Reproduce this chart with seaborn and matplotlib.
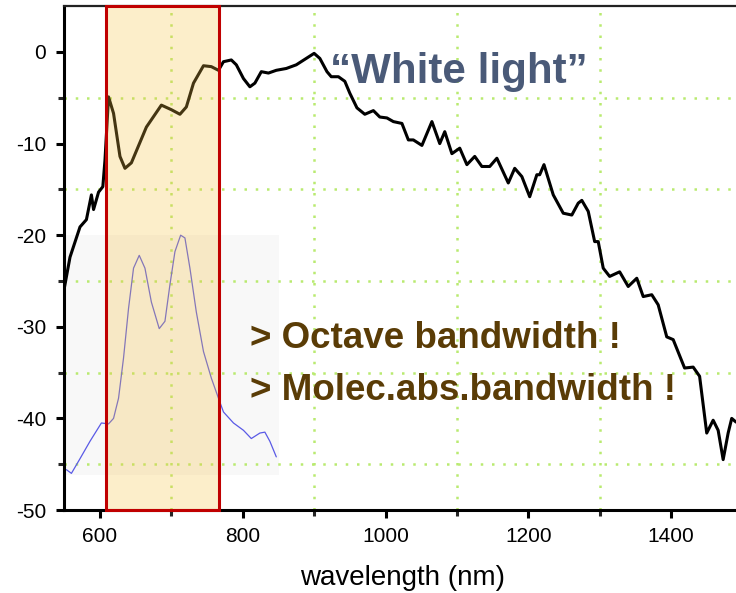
import numpy as np
import pandas as pd
import matplotlib
matplotlib.use("Agg")
import matplotlib.pyplot as plt
import seaborn as sns
from matplotlib.patches import Rectangle
from matplotlib.ticker import MultipleLocator

# ---- data ----
white_nm = [550, 558, 572, 581, 588, 591, 598, 604, 607, 612, 619, 628, 635, 644, 665, 686,
            700, 712, 721, 731, 745, 756, 766, 773, 784, 791, 801, 810, 817, 826, 836, 847,
            861, 875, 889, 900, 908, 918, 924, 934, 943, 950, 960, 971, 983, 992, 1002, 1011,
            1023, 1032, 1039, 1051, 1065, 1076, 1083, 1093, 1104, 1114, 1125, 1135, 1146, 1156,
            1172, 1181, 1191, 1202, 1212, 1216, 1222, 1235, 1249, 1261, 1270, 1275, 1284, 1293,
            1298, 1305, 1314, 1328, 1340, 1352, 1361, 1373, 1382, 1394, 1403, 1419, 1431, 1440,
            1450, 1459, 1466, 1473, 1480, 1485, 1491]
white_db = [-25.8, -22.4, -19.1, -18.3, -15.6, -17.2, -15.3, -14.7, -11.8, -4.9, -6.7, -11.4,
            -12.7, -12.1, -8.2, -5.8, -6.3, -6.8, -6.0, -3.4, -1.5, -1.6, -2.0, -1.06, -0.87,
            -1.4, -2.9, -3.8, -3.4, -2.15, -2.3, -2.0, -1.8, -1.4, -0.7, -0.15, -0.7, -2.15,
            -2.7, -2.7, -3.2, -4.5, -6.1, -6.8, -6.4, -7.1, -7.2, -7.6, -7.8, -9.6, -9.6,
            -10.2, -7.6, -10.0, -8.7, -11.1, -10.5, -12.3, -11.4, -12.5, -12.5, -11.6, -14.3,
            -12.7, -13.6, -15.8, -13.4, -13.4, -12.3, -15.6, -17.6, -17.8, -16.5, -16.2,
            -17.4, -20.7, -20.7, -23.6, -24.5, -24.0, -25.6, -24.7, -26.7, -26.5, -27.6,
            -31.1, -31.4, -34.5, -34.4, -35.4, -41.6, -40.2, -41.3, -44.5, -41.6, -40.0, -40.4]

abs_nm = [553, 560, 572, 586, 602, 612, 619, 626, 633, 640, 647, 655, 663, 672, 683, 691,
          698, 705, 713, 719, 726, 735, 745, 756, 766, 773, 787, 801, 812, 824, 831, 838, 847]
abs_db = [-45.6, -46.0, -44.4, -42.5, -40.5, -40.6, -40.0, -37.8, -33.4, -28.0, -23.6, -22.2,
          -23.6, -27.3, -30.2, -29.4, -25.4, -21.8, -20.0, -20.3, -23.6, -28.4, -32.7, -35.6,
          -37.8, -39.3, -40.5, -41.3, -42.2, -41.6, -41.5, -42.5, -44.2]

x_ticks = [600, 800, 1000, 1200, 1400]
y_ticks = [0, -10, -20, -30, -40, -50]
band_nm = [608, 767]
inset_nm = [550, 851]
inset_db = [-46.2, -20]

title_text = "\u201cWhite light\u201d"
note_lines = ["> Octave bandwidth !", "> Molec.abs.bandwidth !"]
x_label = "wavelength (nm)"

# ---- figure ----
sns.set_theme(style="white")
plt.rcParams['font.family'] = ['Liberation Sans', 'DejaVu Sans']

W, H = 736, 593
fig = plt.figure(figsize=(W / 100, H / 100), dpi=100)
ax = fig.add_axes([64 / W, (H - 510) / H, (W - 64) / W, (510 - 6) / H])
ax.set_facecolor("white")

# light grey inset background
ax.add_patch(Rectangle((inset_nm[0], inset_db[0]), inset_nm[1] - inset_nm[0],
                       inset_db[1] - inset_db[0], facecolor="#F8F8F8",
                       edgecolor="none", zorder=0.5))

df_w = pd.DataFrame({"nm": white_nm, "dB": white_db})
df_a = pd.DataFrame({"nm": abs_nm, "dB": abs_db})
sns.lineplot(data=df_a, x="nm", y="dB", ax=ax, color="#5A5AE6", lw=0.9,
             sort=False, zorder=2)
sns.lineplot(data=df_w, x="nm", y="dB", ax=ax, color="black", lw=2.2,
             sort=False, zorder=2.5)

ax.set_xlim(549.6, 1491)
ax.set_ylim(-50, 5.02)

# highlighted band (semi-transparent overlay + red frame)
ax.add_patch(Rectangle((band_nm[0], -50), band_nm[1] - band_nm[0], 55.02,
                       facecolor="#F5C242", alpha=0.28, edgecolor="none", zorder=3))
ax.add_patch(Rectangle((band_nm[0], -50), band_nm[1] - band_nm[0], 55.02,
                       facecolor="none", edgecolor="#C00000", lw=2.2, zorder=4,
                       clip_on=False))

ax.set_xticks(x_ticks)
ax.set_yticks(y_ticks)
ax.set_xticklabels([str(v) for v in x_ticks])
ax.set_yticklabels([str(v) for v in y_ticks])
ax.set_xticks([700, 900, 1100, 1300], minor=True)
ax.set_yticks([-45, -35, -25, -15, -5], minor=True)
ax.tick_params(which="major", direction="out", length=6, width=2.2, labelsize=15,
               colors="black", bottom=True, left=True)
ax.tick_params(which="minor", direction="out", length=4, width=2.2,
               bottom=True, left=True)
ax.tick_params(axis="x", which="major", pad=6)
ax.tick_params(axis="y", which="major", pad=7)

ax.grid(False)
ax.grid(which="minor", linestyle=(0, (1, 3.5)), color="#B9EA70", lw=1.8, zorder=1)

for s in ["left", "bottom"]:
    ax.spines[s].set_linewidth(2.2)
    ax.spines[s].set_color("black")
ax.spines["top"].set_linewidth(1.6)
ax.spines["top"].set_color("#222222")
ax.spines["right"].set_visible(False)

ax.set_xlabel("")
ax.set_ylabel("")

fig.text(403 / W, 1 - 578 / H, x_label, fontsize=20, ha="center", va="center",
         color="black")

fig.text(330 / W, 1 - 83 / H, title_text, fontsize=30.3, fontweight="bold",
         color="#4A5A78", ha="left", va="baseline")
fig.text(250 / W, 1 - 348 / H, note_lines[0], fontsize=26.5, fontweight="bold",
         color="#5A3C06", ha="left", va="baseline")
fig.text(250 / W, 1 - 400 / H, note_lines[1], fontsize=26.5, fontweight="bold",
         color="#5A3C06", ha="left", va="baseline")

fig.savefig("out.png", dpi=100)
